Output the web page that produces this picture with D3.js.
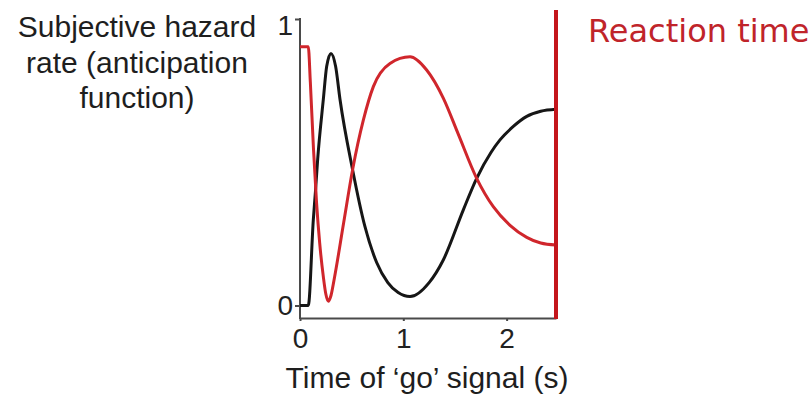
<!DOCTYPE html>
<html>
<head>
<meta charset="utf-8">
<script src="https://cdn.jsdelivr.net/npm/d3@7"></script>
<style>
  html, body { margin: 0; padding: 0; background: #fff; }
  svg { display: block; }
</style>
</head>
<body>
<svg id="chart" width="810" height="399"></svg>
<script>
// ---- data ----
const xTicks = [0, 1, 2];
const yTicks = [0, 1];
const reactionTime = 2.478;
// black curve: [time (s), subjective hazard]
const blackCurve = [
  [0, 0], [0.08, 0], [0.129, 0.30], [0.15, 0.40], [0.171, 0.51], [0.226, 0.72],
  [0.258, 0.834], [0.30, 0.88], [0.345, 0.834], [0.387, 0.72], [0.509, 0.474],
  [0.629, 0.275], [0.742, 0.15], [0.85, 0.08], [0.95, 0.045], [1.065, 0.031],
  [1.25, 0.08], [1.387, 0.159], [1.58, 0.333], [1.71, 0.444], [1.85, 0.535],
  [1.936, 0.578], [2.065, 0.625], [2.195, 0.66], [2.33, 0.678], [2.478, 0.685]
];
// red curve: [time (s), subjective hazard]
const redCurve = [
  [0, 0.903], [0.08, 0.903], [0.10, 0.78], [0.13, 0.55], [0.16, 0.36],
  [0.19, 0.22], [0.226, 0.10], [0.25, 0.04], [0.274, 0.015], [0.30, 0.035],
  [0.33, 0.09], [0.423, 0.29], [0.509, 0.474], [0.613, 0.647], [0.71, 0.764],
  [0.871, 0.845], [1.065, 0.868], [1.226, 0.822], [1.387, 0.724], [1.53, 0.60],
  [1.71, 0.444], [1.871, 0.345], [2.033, 0.28], [2.195, 0.238], [2.33, 0.218],
  [2.478, 0.211]
];
const yLabelLines = ["Subjective hazard", "rate (anticipation", "function)"];
const xLabel = "Time of \u2018go\u2019 signal (s)";
const rtLabel = "Reaction time";

// ---- layout ----
const svg = d3.select("#chart");
const x = d3.scaleLinear().domain([0, reactionTime]).range([300, 556]);
const y = d3.scaleLinear().domain([0, 1]).range([305.5, 19]);
const xAxisY = 318;
const axisColor = "#4a4a4a";
const font = "'Liberation Sans', Arial, Helvetica, sans-serif";

// axes
const yAxis = svg.append("g")
  .attr("transform", `translate(${x(0)},0)`)
  .call(d3.axisLeft(y).tickValues(yTicks).tickSize(5).tickPadding(2).tickFormat(d3.format("d")));
yAxis.select(".domain").remove();
yAxis.selectAll(".tick line").attr("stroke", axisColor).attr("stroke-width", 2);
yAxis.selectAll(".tick text").attr("font-family", font).attr("font-size", 28).attr("fill", "#222")
  .attr("dy", d => d === 1 ? "0.57em" : "0.32em");
svg.append("line")
  .attr("x1", x(0)).attr("x2", x(0))
  .attr("y1", y(1) - 1).attr("y2", xAxisY + 1)
  .attr("stroke", axisColor).attr("stroke-width", 2);

const xAxis = svg.append("g")
  .attr("transform", `translate(0,${xAxisY})`)
  .call(d3.axisBottom(x).tickValues(xTicks).tickSize(3).tickSizeOuter(0).tickPadding(7).tickFormat(d3.format("d")));
xAxis.select(".domain").attr("stroke", axisColor).attr("stroke-width", 2);
xAxis.selectAll(".tick line").attr("stroke", axisColor).attr("stroke-width", 2);
xAxis.selectAll(".tick text").attr("font-family", font).attr("font-size", 28).attr("fill", "#222");

// curves
const line = d3.line().x(d => x(d[0])).y(d => y(d[1])).curve(d3.curveMonotoneX);
svg.append("path").datum(blackCurve).attr("d", line)
  .attr("fill", "none").attr("stroke", "#161616").attr("stroke-width", 3)
  .attr("stroke-linejoin", "round");
svg.append("path").datum(redCurve).attr("d", line)
  .attr("fill", "none").attr("stroke", "#d0262c").attr("stroke-width", 3)
  .attr("stroke-linejoin", "round");

// reaction time marker
svg.append("line")
  .attr("x1", x(reactionTime)).attr("x2", x(reactionTime))
  .attr("y1", 10).attr("y2", xAxisY + 1)
  .attr("stroke", "#c4161c").attr("stroke-width", 4);
svg.append("text")
  .attr("x", 588).attr("y", 42)
  .attr("font-family", "'DejaVu Sans', Verdana, sans-serif")
  .attr("font-size", 32)
  .attr("fill", "#c0242a")
  .text(rtLabel);

// y label
const yl = svg.append("text")
  .attr("font-family", font).attr("font-size", 30).attr("fill", "#1e1e1e")
  .attr("text-anchor", "middle");
yLabelLines.forEach((t, i) => {
  yl.append("tspan").attr("x", 137).attr("y", 37 + i * 35.5).text(t);
});

// x label
svg.append("text")
  .attr("x", 427).attr("y", 388)
  .attr("font-family", font).attr("font-size", 30).attr("fill", "#1e1e1e")
  .attr("text-anchor", "middle")
  .text(xLabel);
</script>
</body>
</html>
